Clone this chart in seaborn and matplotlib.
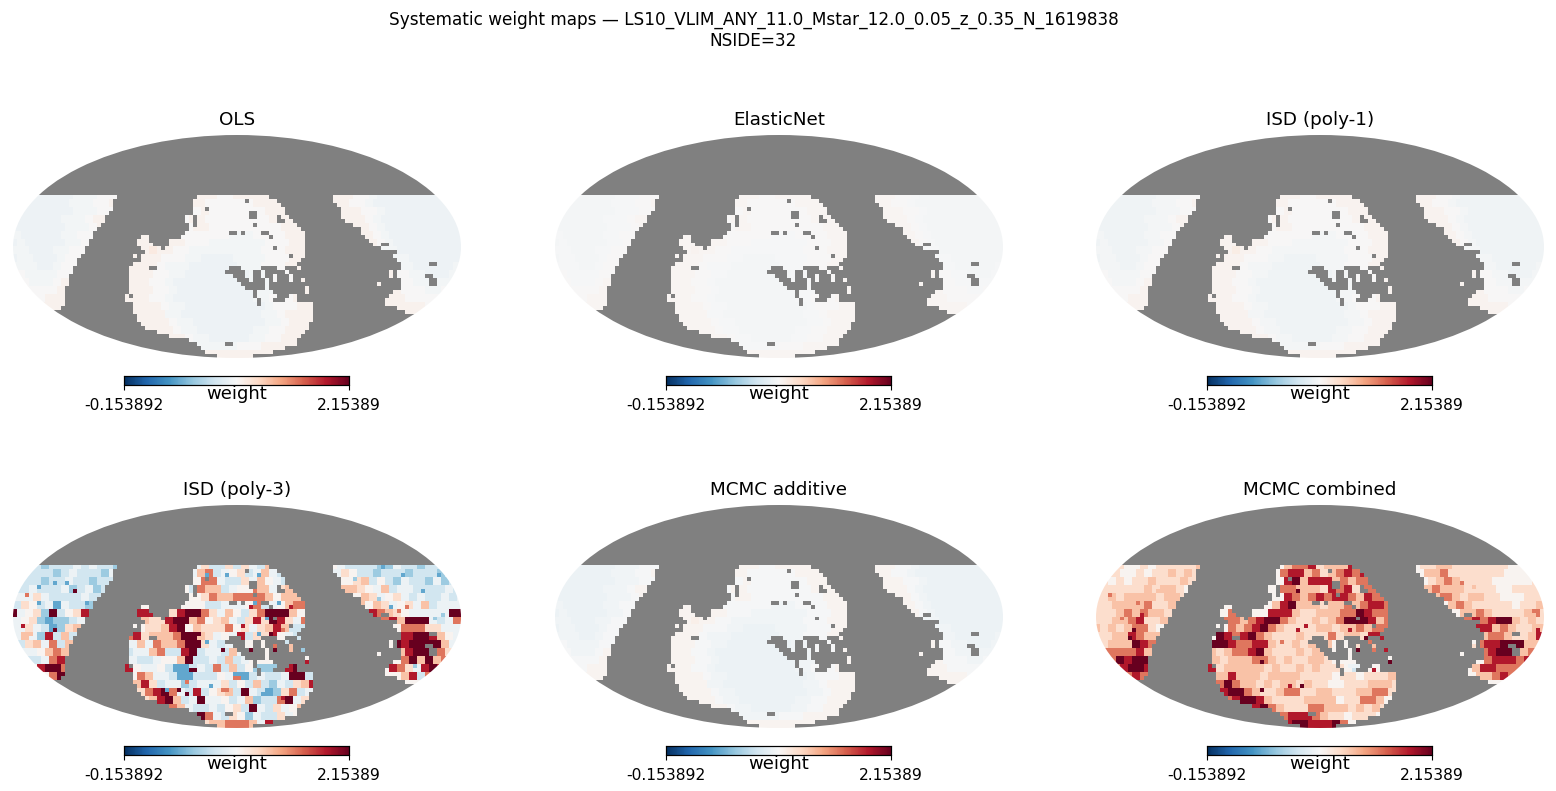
import numpy as np
import pandas as pd
import matplotlib
matplotlib.use("Agg")
import matplotlib.pyplot as plt
from matplotlib.patches import Ellipse
import seaborn as sns

VMIN, VMAX = -0.153892, 2.15389
W, H = 1556, 791
MAP_W, MAP_H = 448, 223
BAR_W, BAR_H = 225, 9

panel_titles = ["OLS", "ElasticNet", "ISD (poly-1)", "ISD (poly-3)", "MCMC additive", "MCMC combined"]
panel_left = [13, 555, 1096]
panel_top = [135, 505]

# Survey footprint on a 112 x 56 sky grid: first row index, then (start, stop) runs per row
first_footprint_row = 15
footprint_runs = [
    [(0,26),(46,64),(80,112)],
    [(0,25),(45,58),(59,66),(80,112)],
    [(0,25),(45,67),(81,112)],
    [(0,25),(45,48),(49,68),(82,112)],
    [(0,24),(45,59),(61,68),(82,112)],
    [(0,23),(43,45),(46,59),(61,66),(67,69),(82,112)],
    [(0,23),(43,45),(46,66),(68,70),(83,112)],
    [(0,22),(44,45),(46,60),(61,71),(85,112)],
    [(0,21),(44,72),(87,112)],
    [(0,20),(43,54),(56,57),(58,62),(64,73),(87,112)],
    [(0,20),(32,34),(42,64),(65,73),(88,112)],
    [(0,19),(31,34),(39,73),(89,112)],
    [(0,19),(31,35),(39,73),(90,92),(94,112)],
    [(0,18),(32,37),(38,65),(66,73),(92,112)],
    [(0,18),(33,73),(96,112)],
    [(0,17),(30,31),(32,69),(70,73),(95,112)],
    [(0,16),(32,72),(96,112)],
    [(0,16),(30,71),(97,104),(106,112)],
    [(0,15),(29,34),(36,54),(57,62),(66,68),(71,72),(97,112)],
    [(0,15),(29,53),(58,60),(62,63),(68,69),(94,95),(96,112)],
    [(0,14),(29,55),(58,60),(62,63),(65,66),(69,70),(94,95),(96,103),(105,112)],
    [(0,14),(29,56),(59,60),(63,64),(65,66),(69,70),(72,73),(97,104),(106,112)],
    [(0,14),(29,57),(63,64),(91,92),(97,104),(106,112)],
    [(0,13),(29,58),(63,64),(73,74),(97,112)],
    [(0,13),(29,60),(61,65),(73,74),(95,112)],
    [(0,13),(28,29),(30,60),(61,66),(69,71),(94,112)],
    [(0,13),(28,61),(62,65),(68,71),(93,112)],
    [(0,13),(30,61),(62,75),(93,112)],
    [(0,12),(30,75),(96,112)],
    [(30,75),(98,102)],
    [(31,75)],
    [(31,75)],
    [(32,74)],
    [(33,74)],
    [(36,73)],
    [(39,72)],
    [(44,71)],
    [(46,53),(55,71)],
    [(47,68)],
    [(48,65)],
    [(51,60)],
]

# Weight zones on a 56 x 28 grid, shared by the low-amplitude fits
first_class_row = 7
zone_rows = [
    "00000001 11222333 33333233 32233333 33333333 33221000 00000000",
    "00000001 11223333 33333233 22222233 33333333 33221000 00000000",
    "00000001 11223333 33333223 22222223 33333333 33322100 00000000",
    "00000011 12333333 33333233 22222222 33333333 33332100 00000000",
    "00000011 12333333 33333233 22222222 23333333 33332100 00000000",
    "10000011 22333333 33333222 22211122 22333333 33333210 00000000",
    "10000011 23333333 33333222 11111112 22333333 33333210 00000000",
    "11000112 23333333 34332211 11111112 22333333 33333311 00000000",
    "11000122 33333333 33222110 00011112 22333333 33333321 10000000",
    "11100122 33333333 33211100 00001112 22333333 33333322 11000001",
    "21111223 33333333 32211000 00000111 22233333 33333332 21100011",
    "22111233 33333333 32210000 00000111 22233333 33333333 22111112",
    "32222333 33333333 32210000 00000011 22233333 33333333 22211222",
    "33223333 33333333 32210000 00000011 22233333 33333333 32222223",
    "33333333 33333333 33211000 00000001 22233333 33333333 33322333",
    "33333333 33333333 33311000 00000001 12333333 33333333 33333333",
    "33333333 33333333 33321100 00000001 12333333 33333333 33333333",
    "33333333 33333333 33332110 00000011 22333333 33333333 33333333",
    "33333333 33333333 33333211 00000112 23333333 33333333 33333333",
    "33333333 33333333 33333321 11112223 33333333 33333333 33333333",
    "33333333 33333333 33333333 33333333 33333333 33333333 33333333",
]
ols_levels = [0.94, 0.97, 1.00, 1.05, 1.10]
elastic_levels = [0.975, 0.985, 1.00, 1.02, 1.04]
poly1_levels = [0.95, 0.975, 1.00, 1.045, 1.09]
additive_levels = [0.93, 0.955, 0.99, 1.035, 1.07]

# Pixel classes on the same grid for the two high-contrast maps
class_weights = [0.40, 0.58, 0.78, 0.93, 1.03, 1.20, 1.34, 1.62, 1.92, 2.15]
poly3_rows = [
    "22212223 23221344 44444435 22525326 52354444 32222113 22122223",
    "22222123 22213244 44444436 72345236 32524444 35422122 21222122",
    "22212232 21222444 44444447 73225364 32352444 44562421 32213122",
    "22322231 23124444 44444427 66234466 35644444 46654362 33222232",
    "33532222 32234444 44444445 76677776 46664444 44465345 32322323",
    "25423032 21244444 44444444 22333472 34677744 44444653 45362333",
    "34519245 83214448 84458997 53642579 99648744 44448765 43333399",
    "34510112 34244444 65589967 45632585 98537644 44444478 69993237",
    "35320156 74254444 55689465 55745356 86225244 44444444 77755333",
    "36318262 74444478 56667996 53438255 84326344 44444444 88998643",
    "25637267 54444436 37667995 32334442 72644444 44444449 89999633",
    "13346765 64444423 36722892 33263444 45744444 44444444 68998752",
    "12237886 54444432 23446922 32623444 44444744 44444444 79696744",
    "44489975 44444484 33420023 27262411 13895444 44444448 75389894",
    "44447986 44444447 63320022 24370232 23992744 44444444 68278644",
    "44444444 44444436 85233123 33524262 13256844 44444444 44444444",
    "44444444 44444445 78973282 45629320 15723644 44444444 44444444",
    "44444444 44444444 56896239 33423612 27935444 44444444 44444444",
    "44444444 44444444 44676322 32452932 53461444 44444444 44444444",
    "44444444 44444444 44446539 73254132 25344444 44444444 44444444",
    "44444444 44444444 44444885 66777638 48844444 44444444 44444444",
]
combined_rows = [
    "55544545 55556644 44444446 77856668 86654444 55665555 55544445",
    "55544545 56565444 44444447 88675678 78744444 46675555 55544445",
    "54545565 55654444 44444448 96888676 77864444 45676555 54444455",
    "55555565 66544444 44444447 76665878 57774444 46766655 55445555",
    "56566665 66544444 44444448 76787887 68774444 44676566 55444555",
    "55666675 56444444 44444468 96665667 67887444 44446765 55554556",
    "55676766 55444444 78444888 65566677 98778744 44444667 65555675",
    "55667855 65444444 77678997 65565679 99867544 44444478 78996565",
    "56567754 66444444 76789765 55566566 76777444 44444448 86765566",
    "55668766 76444449 87897655 56555756 65887444 44444448 67765568",
    "56669876 54444499 87788655 65656444 57655444 44444447 88999665",
    "57777866 64444465 67789655 56566444 65455444 44444444 78997676",
    "47989978 64444465 66677656 55665444 55444444 44444444 78887887",
    "44789987 44444485 66666565 56565554 33444744 44444446 88777786",
    "44478744 44444466 86665666 65555455 45556755 44444446 67876644",
    "44444444 44444477 97665656 65655445 55666544 44444444 44444444",
    "44444444 44444478 99765567 75566555 66775444 44444444 44444444",
    "44444444 44444444 78998655 55666645 57764444 44444444 44444444",
    "44444444 44444444 44789765 55776665 65654444 44444444 44444444",
    "44444444 44444444 44447987 88876554 55544444 44444444 44444444",
    "44444444 44444444 44444798 99888974 78844444 44444444 44444444",
]

# Isolated outlier pixels on the 112 x 56 grid: (column, row, class)
poly3_spots = [
    (6,20,0),(10,19,0),(13,19,0),(6,24,0),(18,24,0),(15,21,9),(3,22,7),(4,32,6),(2,30,8),(10,31,9),
    (48,17,0),(53,17,0),(46,32,9),(48,34,0),(52,36,9),(44,41,9),(45,41,9),(44,43,0),(49,45,0),
    (55,42,0),(56,42,0),(43,44,7),(41,46,9),(46,48,9),(43,47,9),(52,46,7),(53,46,7),(38,46,0),
    (61,17,0),(60,21,7),(60,24,0),(66,24,0),(59,25,8),(69,25,8),(63,28,0),(65,28,0),(57,30,8),
    (67,31,7),(64,32,9),(61,32,0),(59,36,9),(65,36,9),(69,36,6),(72,36,1),(73,39,8),(63,41,1),
    (62,47,0),(59,50,9),(67,48,8),(91,38,0),(97,17,0),(92,15,0),(106,17,0),(85,18,1),(102,21,0),
    (98,25,7),(94,25,0),(87,24,6),(107,27,1),(105,28,1),(91,23,1),(96,26,7),(100,40,1),(109,38,6),
]
combined_spots = [
    (3,22,7),(10,24,7),(15,21,6),(9,31,9),(8,33,9),(11,27,8),(13,38,9),(6,28,7),(41,39,9),(41,46,9),
    (48,45,8),(51,45,9),(50,31,8),(52,30,8),(46,34,7),(50,21,9),(54,52,2),(63,24,9),(63,31,8),
    (67,33,9),(65,36,9),(69,36,7),(72,36,8),(73,39,9),(69,41,8),(63,40,3),(64,41,2),(91,19,7),
    (94,20,6),(109,27,6),(110,31,8),(86,22,7),(94,35,5),(91,38,6),
]


def footprint_mask():
    inside = np.zeros((56, 112), dtype=bool)
    for offset, runs in enumerate(footprint_runs):
        for start, stop in runs:
            inside[first_footprint_row + offset, start:stop] = True
    return inside


def sky_values(rows, levels, spots=()):
    coarse = np.full((28, 56), 1.0)
    for offset, row in enumerate(rows):
        coarse[first_class_row + offset] = [levels[int(ch)] for ch in row.replace(" ", "")]
    fine = np.repeat(np.repeat(coarse, 2, axis=0), 2, axis=1)
    # Pixel centres alternate between rings, so every second ring sits half a cell over
    for ring in range(0, 56, 2):
        if (ring // 2) % 2:
            fine[ring:ring + 2] = np.roll(fine[ring:ring + 2], 1, axis=1)
    for col, row, cls in spots:
        fine[row, col] = levels[cls]
    return fine


panel_values = [
    sky_values(zone_rows, ols_levels),
    sky_values(zone_rows, elastic_levels),
    sky_values(zone_rows, poly1_levels),
    sky_values(poly3_rows, class_weights, poly3_spots),
    sky_values(zone_rows, additive_levels),
    sky_values(combined_rows, class_weights, combined_spots),
]

cmap = plt.get_cmap("RdBu_r").copy()
cmap.set_bad("#808080")
outside = ~footprint_mask()

fig = plt.figure(figsize=(W / 100, H / 100), dpi=100)

for idx, (title, values) in enumerate(zip(panel_titles, panel_values)):
    row, col = divmod(idx, 3)
    x0, y0 = panel_left[col], panel_top[row]
    ax = fig.add_axes([x0 / W, 1 - (y0 + MAP_H) / H, MAP_W / W, MAP_H / H])
    cax = fig.add_axes([(x0 + 111) / W, 1 - (y0 + 241 + BAR_H) / H, BAR_W / W, BAR_H / H])
    frame = pd.DataFrame(values)
    sns.heatmap(frame, mask=outside, cmap=cmap, vmin=VMIN, vmax=VMAX, ax=ax, cbar_ax=cax,
                xticklabels=False, yticklabels=False,
                cbar_kws={"orientation": "horizontal", "ticks": [VMIN, VMAX]})
    sky = Ellipse((56, 28), 112, 56, transform=ax.transData)
    ax.collections[0].set_clip_path(sky)
    ax.set_title(title, fontsize=13.2, pad=7.5)
    ax.axis("off")
    cax.set_xticklabels(["-0.153892", "2.15389"])
    cax.tick_params(labelsize=11.2, length=3.5, width=0.8, pad=6)
    cax.set_xlabel("weight", fontsize=13, labelpad=-20.5)
    for spine in cax.spines.values():
        spine.set_visible(True)
        spine.set_linewidth(0.8)

fig.suptitle("Systematic weight maps — LS10_VLIM_ANY_11.0_Mstar_12.0_0.05_z_0.35_N_1619838\nNSIDE=32",
             x=753.5 / W, y=1 - 11 / H, fontsize=12.15, va="top")
fig.savefig("out.png", dpi=100)
